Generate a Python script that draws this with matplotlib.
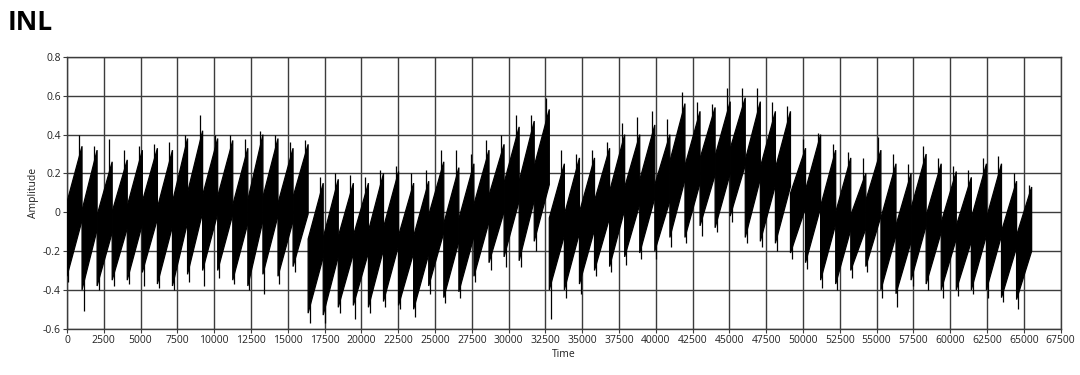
import matplotlib
matplotlib.use("Agg")
import matplotlib.pyplot as plt
import numpy as np

# ---- data (one entry per 1024-code tooth) ----
tooth_width = 1024
tooth_lo = [-0.33, -0.40, -0.38, -0.35, -0.35, -0.31, -0.37, -0.38,
            -0.32, -0.30, -0.30, -0.35, -0.38, -0.32, -0.33, -0.28,
            -0.52, -0.53, -0.49, -0.48, -0.49, -0.46, -0.48, -0.50,
            -0.38, -0.44, -0.41, -0.33, -0.26, -0.23, -0.25, -0.15,
            -0.40, -0.40, -0.37, -0.30, -0.28, -0.23, -0.21, -0.20,
            -0.13, -0.13, -0.07, -0.08, -0.02, -0.13, -0.15, -0.16,
            -0.21, -0.26, -0.35, -0.37, -0.30, -0.28, -0.40, -0.42,
            -0.35, -0.37, -0.40, -0.40, -0.40, -0.40, -0.44, -0.45]
tooth_hi = [0.34, 0.32, 0.26, 0.27, 0.32, 0.33, 0.32, 0.38,
            0.42, 0.38, 0.37, 0.33, 0.40, 0.38, 0.33, 0.35,
            0.15, 0.17, 0.15, 0.15, 0.20, 0.21, 0.15, 0.16,
            0.26, 0.23, 0.25, 0.32, 0.35, 0.44, 0.47, 0.53,
            0.25, 0.28, 0.28, 0.33, 0.40, 0.40, 0.45, 0.40,
            0.56, 0.52, 0.54, 0.57, 0.59, 0.57, 0.52, 0.52,
            0.33, 0.40, 0.32, 0.28, 0.20, 0.32, 0.25, 0.20,
            0.30, 0.25, 0.21, 0.18, 0.25, 0.25, 0.16, 0.13]
spike_hi = [0.40, 0.34, 0.38, 0.32, 0.34, 0.35, 0.36, 0.40,
            0.50, 0.40, 0.40, 0.38, 0.42, 0.40, 0.36, 0.37,
            0.18, 0.20, 0.19, 0.18, 0.22, 0.24, 0.20, 0.22,
            0.32, 0.32, 0.30, 0.37, 0.40, 0.50, 0.50, 0.59,
            0.32, 0.30, 0.32, 0.36, 0.46, 0.49, 0.52, 0.48,
            0.62, 0.57, 0.56, 0.64, 0.64, 0.64, 0.57, 0.55,
            0.38, 0.41, 0.35, 0.31, 0.28, 0.39, 0.30, 0.25,
            0.34, 0.28, 0.24, 0.22, 0.28, 0.29, 0.20, 0.14]
spike_lo = [-0.36, -0.51, -0.40, -0.38, -0.37, -0.38, -0.39, -0.40,
            -0.36, -0.38, -0.34, -0.37, -0.40, -0.42, -0.37, -0.31,
            -0.57, -0.57, -0.52, -0.55, -0.52, -0.49, -0.50, -0.54,
            -0.42, -0.47, -0.44, -0.36, -0.30, -0.28, -0.28, -0.20,
            -0.55, -0.44, -0.42, -0.33, -0.31, -0.27, -0.24, -0.24,
            -0.18, -0.16, -0.12, -0.10, -0.05, -0.16, -0.18, -0.20,
            -0.24, -0.29, -0.39, -0.40, -0.34, -0.31, -0.44, -0.49,
            -0.38, -0.40, -0.44, -0.43, -0.42, -0.44, -0.46, -0.50]

x_ticks = list(range(0, 67501, 2500))
y_ticks = [-0.6, -0.4, -0.2, 0, 0.2, 0.4, 0.6, 0.8]
y_tick_labels = ["-0.6", "-0.4", "-0.2", "0", "0.2", "0.4", "0.6", "0.8"]

plt.rcParams['font.family'] = ['Open Sans', 'DejaVu Sans']

fig = plt.figure(figsize=(10.8, 3.75), dpi=100)
ax = fig.add_axes([0.062, 0.1235, 0.920, 0.7245])

grid_c = "#3c3c3c"
band_frac = 0.57
for k, (lo, hi, sh, sl) in enumerate(zip(tooth_lo, tooth_hi, spike_hi, spike_lo)):
    x0 = k * tooth_width
    x1 = x0 + tooth_width
    span = hi - lo
    xs = [x0, x1, x1, x0]
    ys = [lo, hi - band_frac * span, hi, lo + band_frac * span]
    ax.fill(xs, ys, color="black", lw=0.9, ec="black", zorder=3)
    xt = x0 + 0.8 * tooth_width
    ax.vlines(xt, hi - 0.3 * span, sh, color="black", lw=0.9, zorder=3)
    xb = x0 + 0.1 * tooth_width
    ax.vlines(xb, sl, lo + 0.3 * span, color="black", lw=0.9, zorder=3)

ax.set_xlim(0, 67500)
ax.set_ylim(-0.6, 0.8)
ax.set_xticks(x_ticks)
ax.set_xticklabels([str(t) for t in x_ticks])
ax.set_yticks(y_ticks)
ax.set_yticklabels(y_tick_labels)
ax.grid(True, color=grid_c, lw=1.0, zorder=1)
ax.set_axisbelow(True)
for s in ax.spines.values():
    s.set_color(grid_c)
    s.set_linewidth(1.0)
ax.tick_params(axis="both", labelsize=7.5, length=3, width=0.8, color=grid_c,
               pad=1.5, labelcolor="#222222")
ax.set_xlabel("Time", fontsize=7.5, labelpad=2, color="#222222")
ax.set_ylabel("Amplitude", fontsize=7.5, labelpad=3, color="#222222")

fig.text(0.007, 0.94, "INL", fontsize=19, fontweight="bold", ha="left", va="center")

fig.savefig("out.png", dpi=100, facecolor="white")
